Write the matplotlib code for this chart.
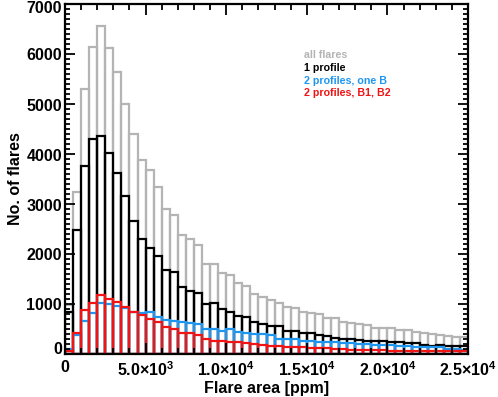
import numpy as np
import matplotlib
matplotlib.use("Agg")
import matplotlib.pyplot as plt
from matplotlib.ticker import MultipleLocator, FixedLocator, FixedFormatter, NullFormatter
from matplotlib.transforms import blended_transform_factory

plt.rcParams['font.family'] = ['Liberation Sans', 'DejaVu Sans']
plt.rcParams['font.weight'] = 'bold'
plt.rcParams['mathtext.fontset'] = 'custom'
plt.rcParams['mathtext.rm'] = 'Liberation Sans:bold'
plt.rcParams['mathtext.bf'] = 'Liberation Sans:bold'
plt.rcParams['mathtext.default'] = 'bf'

bin_width = 500
bin_left = np.arange(0, 25000, bin_width)

all_flares = [990, 3250, 5300, 6150, 6560, 6130, 5650, 5010, 4410, 3890,
              3690, 3350, 2900, 2790, 2390, 2310, 2190, 1810, 1810, 1630,
              1590, 1420, 1370, 1210, 1150, 1080, 1030, 950, 930, 850,
              830, 800, 715, 715, 645, 630, 600, 575, 530, 530,
              520, 490, 485, 450, 420, 410, 390, 355, 350, 335]
one_profile = [840, 2480, 3770, 4310, 4360, 4030, 3630, 3160, 2670, 2310,
               2130, 1970, 1680, 1640, 1350, 1270, 1230, 1000, 1030, 910,
               840, 760, 735, 640, 600, 560, 560, 470, 455, 425,
               420, 380, 365, 325, 310, 310, 290, 270, 265, 255,
               245, 240, 225, 220, 190, 170, 180, 170, 155, 155]
two_one_b = [100, 375, 660, 815, 1025, 995, 965, 915, 845, 815,
             845, 735, 680, 655, 640, 615, 600, 505, 505, 465,
             495, 435, 425, 400, 400, 385, 310, 305, 305, 270,
             265, 240, 240, 240, 220, 220, 200, 200, 185, 185,
             185, 155, 155, 150, 135, 135, 135, 110, 105, 90]
two_b1_b2 = [70, 415, 880, 1025, 1175, 1095, 1045, 945, 845, 775,
             705, 645, 545, 495, 425, 425, 380, 305, 265, 265,
             245, 245, 215, 195, 180, 170, 155, 150, 150, 135,
             130, 120, 120, 100, 100, 90, 90, 75, 75, 75,
             70, 70, 70, 65, 65, 65, 60, 60, 60, 60]

series_labels = ['all flares', '1 profile', '2 profiles, one B', '2 profiles, B1, B2']
series_colors = ['#b4b4b4', '#000000', '#1e96f0', '#f01414']
series_values = [all_flares, one_profile, two_one_b, two_b1_b2]

x_ticks = [0, 5000, 10000, 15000, 20000, 25000]
x_tick_labels = ['0', r'$5.0{\times}10^{3}$', r'$1.0{\times}10^{4}$',
                 r'$1.5{\times}10^{4}$', r'$2.0{\times}10^{4}$', r'$2.5{\times}10^{4}$']
y_ticks = [0, 1000, 2000, 3000, 4000, 5000, 6000, 7000]
y_tick_labels = ['0', '1000', '2000', '3000', '4000', '5000', '6000', '7000']

fig = plt.figure(figsize=(4.98, 3.97), dpi=100)
ax = fig.add_axes([65/498, 1-354/397, (468-65)/498, (354-4)/397])

for vals, col in zip(series_values, series_colors):
    ax.bar(bin_left, vals, width=bin_width, align='edge', fill=False,
           edgecolor=col, linewidth=1.6)

ax.set_xlim(0, 25000)
ax.set_ylim(0, 7000)

ax.xaxis.set_major_locator(FixedLocator(x_ticks))
ax.xaxis.set_major_formatter(FixedFormatter(x_tick_labels))
ax.xaxis.set_minor_locator(MultipleLocator(1000))
ax.yaxis.set_major_locator(FixedLocator(y_ticks))
ax.yaxis.set_major_formatter(NullFormatter())
ax.yaxis.set_minor_locator(MultipleLocator(100))

ax.tick_params(which='both', direction='in', top=True, right=True, width=1.3, color='black')
ax.tick_params(axis='x', which='major', length=8, pad=4.5, labelsize=11.5)
ax.tick_params(axis='x', which='minor', length=4)
ax.tick_params(axis='y', which='major', length=7)
ax.tick_params(axis='y', which='minor', length=3.5)
for lab in ax.get_xticklabels():
    lab.set_fontweight('bold')

# y tick labels (IDL-style: top label nudged down, bottom label nudged up)
ytrans = blended_transform_factory(ax.transAxes, ax.transData)
px_per_unit = 350 / 7000.0
for val, lab in zip(y_ticks, y_tick_labels):
    if val == 7000:
        off = -4 / px_per_unit
    elif val == 0:
        off = 5 / px_per_unit
    else:
        off = -2 / px_per_unit
    ax.text(-3/403, val + off, lab, transform=ytrans, ha='right', va='center',
            fontsize=11.5, fontweight='bold', clip_on=False)

for sp in ax.spines.values():
    sp.set_linewidth(1.6)

ax.set_xlabel('Flare area [ppm]', fontsize=11.5, fontweight='bold', va='center')
ax.xaxis.set_label_coords(0.5, -(388.5-354)/350)
ax.set_ylabel('No. of flares', fontsize=11.5, fontweight='bold', va='center')
ax.yaxis.set_label_coords(-(65-15)/403, 0.5)

for i, (lab, col) in enumerate(zip(series_labels, series_colors)):
    fig.text(304/498, 1 - (55.5 + 12.6*i)/397, lab, color=col, fontsize=7.7,
             fontweight='bold', ha='left', va='center')

fig.savefig('out.png', dpi=100)
